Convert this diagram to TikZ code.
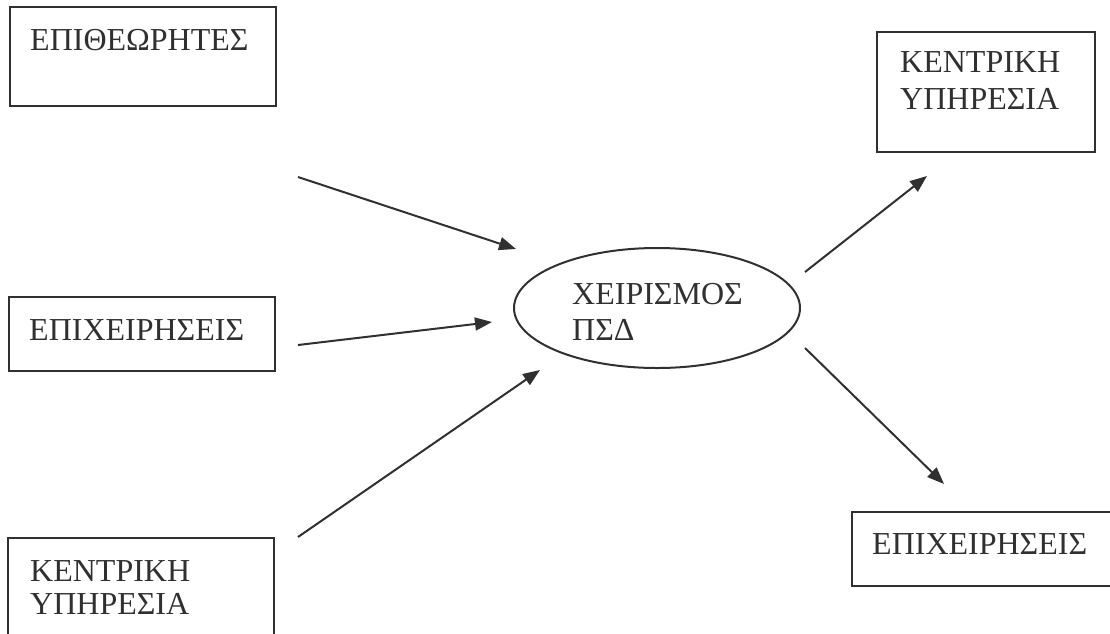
\documentclass[tikz,border=0pt]{standalone}
\usepackage{fontspec}
\setmainfont{Liberation Serif}
\usetikzlibrary{arrows.meta,shapes.geometric}
\definecolor{ink}{HTML}{303030}
\tikzset{
  box/.style={draw=ink, line width=2pt, inner sep=0pt},
  label/.style={anchor=base west, inner sep=0pt, text=ink, font=\fontsize{32}{36}\selectfont},
  flow/.style={draw=ink, line width=2pt, -{Triangle[length=17pt,width=13pt]}},
}
\begin{document}
\begin{tikzpicture}[x=1pt,y=-1pt]
\useasboundingbox (0,0) rectangle (1110,633);
% left column boxes
\draw[box] (10,7) rectangle (276,106);
\node[label] (inspectors) at (30,50) {ΕΠΙΘΕΩΡΗΤΕΣ};
\draw[box] (9,297) rectangle (275,371);
\node[label] (firmsin) at (29,340) {ΕΠΙΧΕΙΡΗΣΕΙΣ};
\draw[box] (8,538) rectangle (274,660);
\node[label] (centralin1) at (30,581) {ΚΕΝΤΡΙΚΗ};
\node[label] (centralin2) at (30,614) {ΥΠΗΡΕΣΙΑ};
% central process
\node[draw=ink, line width=2pt, ellipse, minimum width=286pt, minimum height=120pt] (proc) at (657,308) {};
\node[label] (proc1) at (572,304) {ΧΕΙΡΙΣΜΟΣ};
\node[label] (proc2) at (572,340) {ΠΣΔ};
% right column boxes
\draw[box] (877,32) rectangle (1095,152);
\node[label] (centralout1) at (900,72) {ΚΕΝΤΡΙΚΗ};
\node[label] (centralout2) at (900,109) {ΥΠΗΡΕΣΙΑ};
\draw[box] (852,512) rectangle (1125,586);
\node[label] (firmsout) at (872,554) {ΕΠΙΧΕΙΡΗΣΕΙΣ};
% arrow end points
\coordinate (a1s) at (298,177); \coordinate (a1e) at (516,249);
\coordinate (a2s) at (298,345); \coordinate (a2e) at (492,322);
\coordinate (a3s) at (298,537); \coordinate (a3e) at (540,370);
\coordinate (a4s) at (805,272); \coordinate (a4e) at (927,176);
\coordinate (a5s) at (805,348); \coordinate (a5e) at (944,484);
\draw[flow] (a1s) -- (a1e);
\draw[flow] (a2s) -- (a2e);
\draw[flow] (a3s) -- (a3e);
\draw[flow] (a4s) -- (a4e);
\draw[flow] (a5s) -- (a5e);
\end{tikzpicture}
\end{document}
